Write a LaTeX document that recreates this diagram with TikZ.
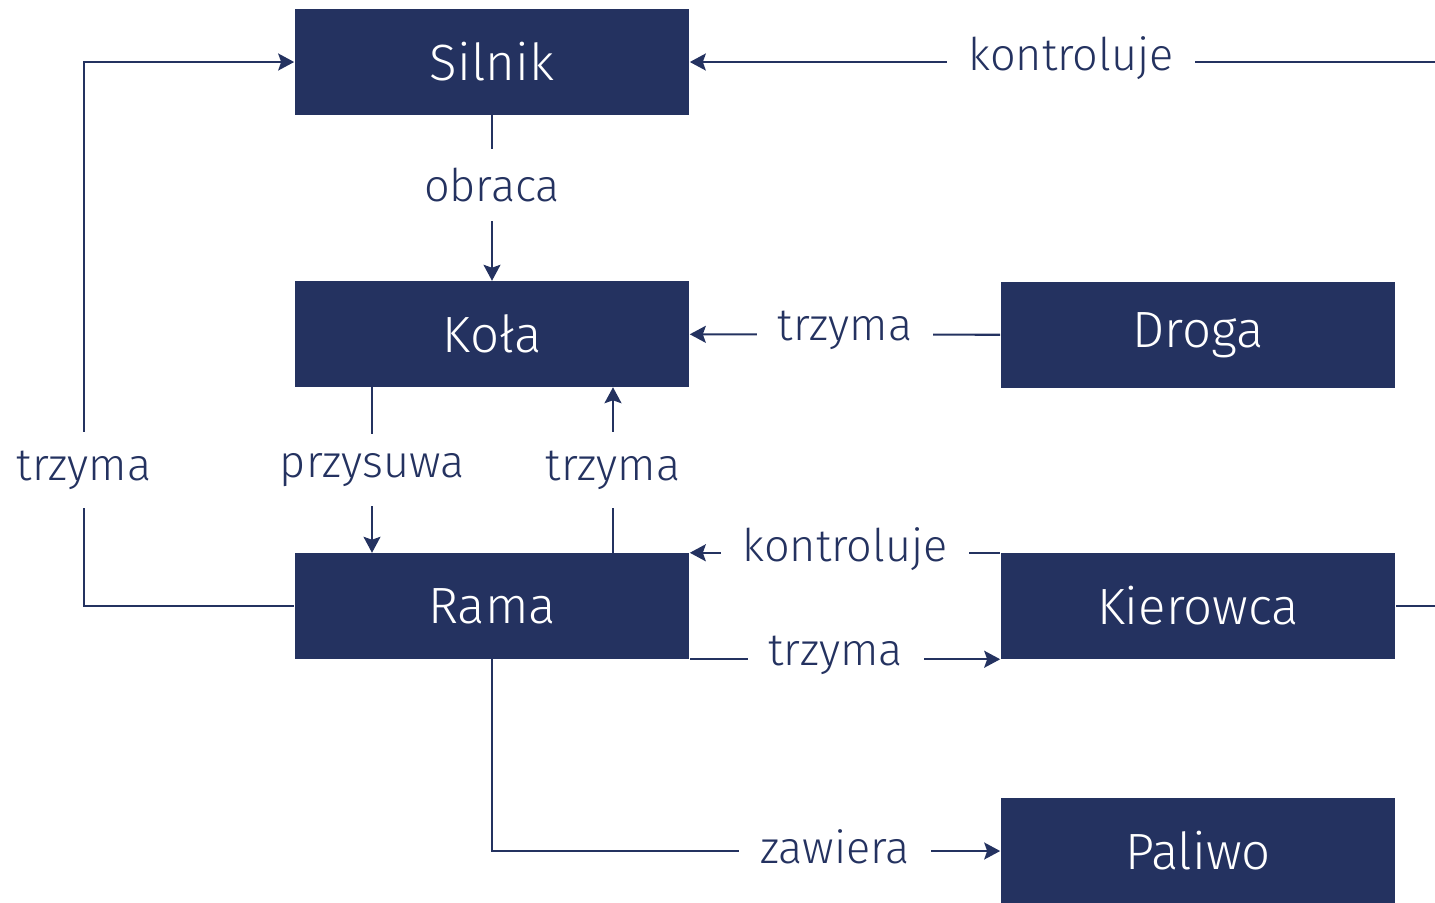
\documentclass[tikz,border=0pt]{standalone}
\usepackage{fontspec}
\setmainfont{Fira Sans Light}
\usetikzlibrary{arrows.meta,positioning}

\definecolor{navy}{RGB}{36,50,96}

\tikzset{
  block/.style={fill=navy,text=white,minimum width=3.94cm,minimum height=1.05cm,
    inner sep=0pt,font=\fontsize{14.5}{17}\selectfont},
  link/.style={draw=navy,line width=0.6pt,-{Stealth[length=1.6mm,width=1.7mm,inset=0.3mm]}},
  lbl/.style={fill=white,text=navy,inner xsep=2.1mm,inner ysep=1.6mm,yshift=0.4mm,
    font=\fontsize{12.8}{15}\selectfont},
  vlbl/.style={lbl,yshift=-0.4mm,inner ysep=1.9mm},
}

\begin{document}
\begin{tikzpicture}[x=0.01cm,y=-0.01cm]
    \useasboundingbox (0,0) rectangle (1435,902);
    \clip (0,0) rectangle (1435,902);

    \node[block] (silnik) at (492,62) {Silnik};
    \node[block] (kola) at (492,334) {Koła};
    \node[block] (droga) at (1198,335) {Droga};
    \node[block] (rama) at (492,606) {Rama};
    \node[block] (kierowca) at (1198,606) {Kierowca};
    \node[block] (paliwo) at (1198,851) {Paliwo};

    % helper points
    \coordinate (left) at (84,0);
    \coordinate (right) at (1460,0);
    \coordinate (push) at (372,0);
    \coordinate (hold) at (613,0);
    \coordinate (fuel) at (492,851);

    \draw[link] (silnik) -- node[vlbl,pos=0.42] {obraca} (kola);
    \draw[link] (droga) -- node[lbl] {trzyma} (kola);
    \draw[link] (kola.south -| push) -- node[vlbl] {przysuwa} (rama.north -| push);
    \draw[link] (rama.north -| hold) -- node[vlbl] {trzyma} (kola.south -| hold);

    % frame holds engine
    \draw[link] (rama.west) -- (rama.west -| left)
      -- node[vlbl,pos=0.25] {trzyma} (silnik.west -| left) -- (silnik.west);

    % driver
    \draw[link] (kierowca.north west) -- node[lbl] {kontroluje} (rama.north east);
    \draw[link] (rama.south east) -- node[lbl,pos=0.47] {trzyma} (kierowca.south west);
    \draw[link] (kierowca.east) -- (kierowca.east -| right)
      -- (silnik.east -| right) -- node[lbl,pos=0.505] {kontroluje} (silnik.east);

    \draw[link] (rama.south) -- (fuel) -- node[lbl,pos=0.675] {zawiera} (paliwo.west);

\end{tikzpicture}
\end{document}
